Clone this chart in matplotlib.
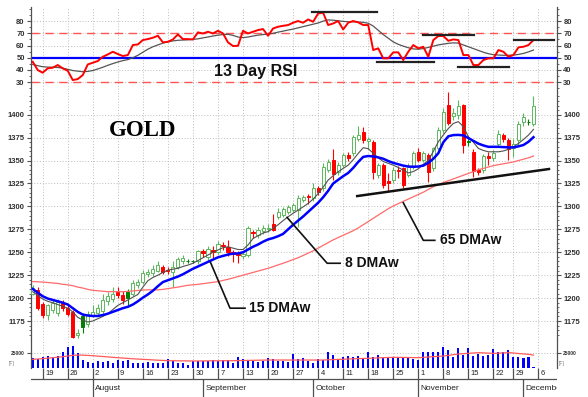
import numpy as np
import matplotlib
matplotlib.use("Agg")
import matplotlib.pyplot as plt

plt.rcParams['font.family'] = ['Liberation Sans', 'DejaVu Sans']

# ---- data (index 0 = Jul 15, one slot per trading day, last = Dec 3) ----
opens = [1205, 1209, 1194, 1182, 1187, 1184, 1195, 1189, 1185, 1160,
         1181, 1172, 1182, 1184, 1186, 1197, 1199, 1207, 1203, 1207,
         1204, 1214, 1218, 1226, 1227, 1230, 1234, 1231, 1229, 1234,
         1240, 1240.5, 1240.5, 1240, 1251, 1245, 1252, 1250, 1258, 1256,
         1250, 1248, 1246, 1247, 1272, 1269, 1273, 1275, 1281, 1288.7,
         1290.5, 1294, 1296, 1296, 1307, 1311, 1308.7, 1319.6, 1319.6, 1339.6,
         1350.5, 1337.8, 1345, 1356, 1357.8, 1374, 1381.5, 1371, 1370.5, 1334,
         1345, 1328, 1328.7, 1340, 1341.5, 1334, 1343, 1359.6, 1350.5, 1356,
         1341.5, 1363.3, 1383.3, 1410.5, 1398.5, 1400, 1410.5, 1371, 1359.6, 1340,
         1340, 1355, 1353, 1368, 1377.5, 1372, 1364, 1372, 1392, 1392.5,
         1390]
highs = [1214, 1212, 1196, 1194, 1198, 1199, 1198, 1192, 1187, 1166,
         1184, 1186, 1192, 1194, 1204, 1207, 1212, 1212, 1208, 1210,
         1220, 1221, 1231, 1232, 1236, 1241, 1236, 1234, 1240, 1245,
         1247, 1243, 1242, 1252, 1254, 1257, 1257, 1262, 1261, 1263,
         1253, 1251, 1250, 1279, 1274, 1278, 1280, 1281, 1292, 1298,
         1299, 1302, 1304, 1312, 1313, 1314, 1325, 1322, 1347, 1352,
         1363, 1348, 1358, 1359, 1378, 1387.6, 1387, 1376, 1372, 1347,
         1347, 1336, 1343, 1344, 1343, 1347, 1360, 1364, 1360, 1358,
         1365, 1387, 1407, 1425, 1407, 1416, 1412, 1373, 1363, 1342,
         1357, 1359, 1362, 1383, 1380, 1375, 1373, 1393, 1402, 1395,
         1420]
lows = [1203, 1187, 1178, 1176, 1184, 1181, 1186, 1180, 1156, 1157,
        1162, 1169, 1179, 1181, 1183, 1193, 1196, 1200, 1194, 1193,
        1202, 1211, 1215, 1223, 1224, 1228, 1226, 1226, 1212, 1232,
        1237, 1238, 1238, 1237, 1245, 1241, 1243, 1248, 1253, 1246,
        1239, 1238, 1243, 1245, 1266, 1266, 1270, 1272, 1273, 1286,
        1288, 1292, 1294, 1278, 1305, 1303, 1306, 1313, 1317, 1337,
        1329, 1334, 1343, 1350, 1355, 1371, 1368.7, 1363, 1330, 1330.5,
        1320, 1317, 1325, 1331, 1320, 1332, 1341, 1348, 1348, 1327,
        1339, 1361, 1380, 1388.7, 1394, 1395, 1358, 1366, 1332, 1334,
        1336, 1345, 1350, 1365, 1370, 1351, 1354, 1366, 1388, 1389,
        1388]
closes = [1211, 1189, 1182, 1192, 1195, 1196, 1189, 1183, 1158, 1162,
          1169, 1183, 1185, 1189, 1198, 1202, 1205, 1203, 1198, 1200,
          1217, 1218, 1227, 1229, 1232, 1236, 1229, 1229.5, 1234, 1243,
          1244, 1240, 1240, 1251, 1249, 1254, 1250.5, 1259, 1256.5, 1250,
          1248.5, 1246.5, 1248, 1276, 1270.5, 1274, 1276, 1277, 1274, 1294,
          1296.7, 1299.6, 1301.5, 1308.7, 1310.5, 1310, 1319.6, 1316, 1343.3, 1348.7,
          1335.3, 1345, 1356, 1353, 1376, 1378, 1372.4, 1373, 1337.8, 1345,
          1323, 1326, 1339.6, 1338.5, 1323.3, 1343.3, 1358, 1350.5, 1357.8, 1337.8,
          1363.3, 1383.3, 1403.3, 1390.5, 1401.5, 1410, 1367, 1370, 1338.6, 1337,
          1355, 1353, 1358, 1379, 1373, 1363, 1368, 1390, 1398, 1392,
          1409.7]
# u = hollow green, d = red, g = filled dark green (ten per row)
kinds = ("udduuudddu" "guuuuuuddg" "uuuuuudduu" "uggudududd" "dduuduuudu"
         "uuuuududuu" "duuduududu" "ddudduudud" "uuuduudgdd" "uduudduuug"
         "u")
ma8 = [1207, 1203, 1199, 1196.5, 1195, 1193, 1191, 1189, 1185, 1179,
       1176, 1174, 1175, 1177.5, 1180, 1183, 1187.5, 1192, 1195, 1198,
       1201, 1204, 1212, 1219, 1222.5, 1225, 1228, 1230.5, 1231.5, 1232.5,
       1234.5, 1236, 1238, 1241, 1244, 1247, 1250, 1252.5, 1255, 1256,
       1254.5, 1253, 1253, 1258, 1265, 1268, 1271, 1272.5, 1276, 1280,
       1284.5, 1288.7, 1292.5, 1296, 1299.5, 1303.3, 1308, 1314, 1321, 1328.7,
       1333.5, 1337.8, 1341.5, 1345, 1351, 1357.8, 1364, 1363, 1358, 1353,
       1349, 1347, 1345, 1342.5, 1339.6, 1336.5, 1338, 1341, 1346, 1350,
       1360, 1370.5, 1378, 1385, 1390.5, 1392.5, 1387, 1376, 1370, 1363.3,
       1361, 1359.6, 1359.6, 1359.6, 1360.5, 1362.2, 1365, 1368.7, 1373, 1377.8,
       1384]
ma15 = [1210, 1206, 1202, 1199.5, 1198, 1196.5, 1195, 1193, 1189, 1185,
        1182, 1181, 1180.5, 1180.5, 1181.5, 1183, 1185, 1187, 1189, 1190.5,
        1193, 1196.5, 1200.5, 1204, 1208, 1213, 1217.5, 1219.5, 1221.5, 1223.5,
        1226, 1229, 1232, 1234.5, 1237, 1239.5, 1242, 1244.5, 1246, 1247.5,
        1248.5, 1248.7, 1250, 1253, 1256, 1258.5, 1261.5, 1264, 1265.5, 1267.5,
        1270, 1275, 1280, 1284.5, 1289, 1294, 1299, 1304, 1310, 1317,
        1325, 1329, 1333, 1336.5, 1342, 1348.5, 1354, 1355, 1354.5, 1353.5,
        1352, 1349.5, 1347.5, 1346, 1344.5, 1343.5, 1343.3, 1343.5, 1344.5, 1347.5,
        1352, 1358, 1370, 1376.5, 1377.8, 1378, 1377.5, 1374.5, 1371.5, 1368.5,
        1366.5, 1365, 1365, 1365, 1364.7, 1364.4, 1364.4, 1365.5, 1367, 1370.5,
        1375.5]
ma65 = [1218, 1217.8, 1217.5, 1217, 1216.5, 1216, 1215, 1214.5, 1213.5, 1212,
        1211, 1209.5, 1208.5, 1208, 1207.5, 1207, 1207, 1207, 1207, 1207.3,
        1207.8, 1208.3, 1208.8, 1209, 1209, 1209, 1209.5, 1210.3, 1211.2, 1212,
        1213, 1214, 1214.5, 1215, 1215.7, 1216.5, 1217.2, 1218, 1219.3, 1220.5,
        1222, 1223.5, 1225, 1226.5, 1228, 1229.5, 1231, 1232.5, 1234.3, 1236.2,
        1238, 1240, 1242, 1244, 1246.5, 1249, 1251.5, 1254.5, 1257.5, 1260.5,
        1263.5, 1266, 1268.5, 1271, 1273.5, 1276.5, 1280, 1283.5, 1287, 1290.5,
        1294, 1297.5, 1300.5, 1303, 1305.5, 1308, 1310.5, 1313, 1315.5, 1318.5,
        1321.5, 1324, 1326, 1328, 1330, 1332, 1334, 1336, 1338, 1340,
        1341.5, 1343, 1344.5, 1345.5, 1346.5, 1347.5, 1348.5, 1350, 1351.5, 1353,
        1355]
rsi = [46.7, 39.9, 37.7, 41.3, 41.8, 44.0, 41.3, 39.3, 31.7, 32.5,
       35.8, 44.5, 45.9, 47.3, 50.8, 52.7, 54.9, 53.0, 51.4, 52.2,
       60.4, 60.9, 64.5, 65.3, 66.4, 68.0, 62.6, 63.1, 65.0, 69.1,
       65.3, 65.3, 65.0, 70.8, 69.9, 71.3, 69.9, 72.1, 69.9, 62.6,
       59.6, 59.8, 72.1, 69.9, 71.3, 72.7, 73.5, 68.0, 74.0, 75.4,
       76.2, 76.8, 78.7, 80.1, 78.7, 81.4, 79.5, 86.3, 86.9, 76.8,
       78.1, 80.1, 73.2, 78.7, 80.1, 79.0, 76.8, 76.8, 56.3, 57.7,
       49.5, 49.5, 54.4, 54.4, 48.1, 54.9, 60.4, 57.7, 59.0, 50.8,
       64.5, 67.8, 67.8, 63.9, 65.0, 64.5, 52.2, 52.2, 44.0, 44.0,
       48.1, 49.5, 49.5, 56.3, 54.9, 50.8, 52.2, 58.5, 59.0, 60.4,
       64.5]
rsi_avg = [44.5, 43.5, 42.6, 42.3, 42.2, 42, 41.5, 40.5, 39.5, 39,
           38.5, 38.8, 39.5, 40.8, 42.2, 43.8, 45.2, 46.5, 47.6, 48.5,
           50, 52, 54.5, 57, 59, 60.5, 62, 63, 63.8, 64.3,
           64.5, 64.7, 65, 65.5, 66.3, 67, 67.8, 68.5, 69, 69.2,
           68.3, 67, 66.5, 67, 67.8, 68.5, 69, 69.4, 70, 71,
           71.8, 72.7, 73.5, 74.5, 75.5, 76.5, 77.5, 78.5, 80, 81,
           80.8, 80.3, 79.8, 79.5, 79.5, 79.3, 79, 78.3, 76, 72.5,
           69, 66, 63, 61, 59.5, 58.2, 57.2, 57, 57.5, 58.5,
           59.5, 60.5, 61.2, 61.8, 62.2, 62, 60.5, 59, 57.5, 56,
           54.5, 53.3, 52.5, 52.2, 52, 52, 52.2, 52.7, 53.5, 54.8,
           56.3]
volume = [16100, 14400, 18900, 20000, 18900, 20000, 27200, 34400, 37200, 24400,
          13300, 10600, 7800, 12200, 10600, 12200, 7800, 13300, 12200, 13300,
          7800, 7800, 8900, 10600, 7800, 7800, 8900, 14400, 11700, 7800,
          7800, 5000, 12200, 12200, 12200, 12200, 13300, 12200, 13300, 13300,
          8900, 17800, 14400, 13300, 12200, 10600, 11700, 16100, 14400, 12200,
          12200, 10600, 22800, 14400, 17200, 12200, 8900, 15000, 13300, 27200,
          21700, 13300, 17800, 20000, 18900, 20000, 15000, 26100, 18900, 21700,
          17200, 17800, 17800, 17800, 16100, 17800, 14400, 13300, 27200, 27200,
          27200, 26100, 34400, 30000, 18900, 32800, 21700, 32800, 20000, 22800,
          20000, 21700, 31700, 27200, 27200, 30000, 18900, 18900, 16100, 17800,
          2200]
volume_avg = [14400, 15000, 15600, 16400, 17200, 18000, 18900, 20000, 21000, 21700,
              21400, 21000, 20500, 19800, 19200, 18500, 17800, 17200, 16600, 16000,
              15400, 14900, 14400, 14000, 13500, 13000, 12600, 12200, 12100, 12000,
              11900, 11800, 11700, 11700, 11800, 11900, 12000, 12000, 12100, 12100,
              12200, 12300, 12500, 12700, 12800, 13000, 13100, 13300, 13300, 13300,
              13300, 13300, 13300, 13300, 13300, 13300, 13300, 13300, 13300, 13700,
              14000, 14300, 14600, 15000, 15300, 15600, 15900, 16200, 16500, 16800,
              17200, 17500, 17800, 17700, 17600, 17500, 17300, 17200, 17800, 18300,
              18900, 19400, 20000, 21000, 22200, 23300, 23900, 24500, 25000, 25600,
              25200, 24800, 24400, 24800, 25200, 25600, 25000, 24200, 23500, 22800,
              21500]

week_idx = [2, 7, 12, 17, 22, 27, 32, 37, 42, 47, 52, 57, 62, 67, 72, 77, 82, 87, 92, 96, 101]
week_labels = ['19', '26', '2', '9', '16', '23', '30', '7', '13', '20', '27',
               '4', '11', '18', '25', '1', '8', '15', '22', '29', '6']
month_idx = [12, 34, 56, 77, 98]
month_labels = ['August', 'September', 'October', 'November', 'December']

# hand-drawn lines: (x0, x1, y)
rsi_levels = [(55.7, 68.7, 87.5), (68.7, 80.2, 46.5), (77.9, 88.1, 68.9),
              (84.9, 95.1, 42.6), (96.1, 104.1, 64.5)]
trend_x = [64.8, 103.1]
trend_y = [1311.3, 1340.8]
# label leaders: (x points, y points, text position)
leaders = [([35.5, 39.4, 42.4], [1239, 1189, 1189], (43.2, 1189), '15 DMAw'),
           ([50.8, 58.8, 61.4], [1288, 1238, 1238], (62.3, 1238), '8 DMAw'),
           ([74.0, 78.0, 80.3], [1304, 1263, 1263], (81.3, 1263), '65 DMAw')]

idx = np.arange(len(closes))

# ---- figure layout (pixels of a 588x397 image) ----
W, H = 588.0, 397.0
fig = plt.figure(figsize=(W / 100, H / 100), dpi=100)


def box(x0, y0, x1, y1):
    return [x0 / W, 1 - y1 / H, (x1 - x0) / W, (y1 - y0) / H]


ax_rsi = fig.add_axes(box(31, 7, 557, 92))
ax_px = fig.add_axes(box(31, 92, 557, 340), sharex=ax_rsi)
ax_vol = fig.add_axes(box(31, 340, 557, 368), sharex=ax_rsi)
ax_dt = fig.add_axes(box(31, 368, 557, 397), sharex=ax_rsi)

grid_kw = dict(color='#b5b5b5', linestyle=(0, (1.2, 2.2)), linewidth=0.6)


def style(ax, size=5.5):
    for s in ['top', 'bottom']:
        ax.spines[s].set_visible(False)
    for s in ['left', 'right']:
        ax.spines[s].set_color('#505050')
        ax.spines[s].set_linewidth(0.9)
    ax.tick_params(axis='y', which='both', left=True, right=True,
                   labelleft=True, labelright=True, colors='#505050',
                   labelcolor='#303030', labelsize=size, direction='out')
    ax.tick_params(axis='y', which='major', length=3, width=0.8, pad=1.5)
    ax.tick_params(axis='y', which='minor', length=1.5, width=0.6)
    ax.tick_params(axis='x', which='both', length=0, labelbottom=False)
    ax.set_xticks(week_idx)
    ax.grid(True, which='major', **grid_kw)
    ax.set_axisbelow(True)
    for lbl in ax.get_yticklabels():
        lbl.set_fontweight('bold')


ax_rsi.set_xlim(-0.34, 104.7)

# ---- RSI panel ----
ax_rsi.set_ylim(21.9, 91.6)
ax_rsi.set_yticks([30, 40, 50, 60, 70, 80])
ax_rsi.set_yticks(np.arange(25, 91, 5), minor=True)
style(ax_rsi)
ax_rsi.axhline(70, color='#ff5555', lw=1.0, ls=(0, (6, 4)), zorder=2)
ax_rsi.axhline(30, color='#ff5555', lw=1.0, ls=(0, (6, 4)), zorder=2)
ax_rsi.axhline(50, color='#0000ff', lw=1.6, zorder=2)
ax_rsi.plot(idx, rsi_avg, color='#555555', lw=0.9, zorder=3)
ax_rsi.plot(idx, rsi, color='#ff0000', lw=1.4, zorder=4)
for x0, x1, y in rsi_levels:
    ax_rsi.plot([x0, x1], [y, y], color='#222222', lw=1.6, zorder=5)
ax_rsi.text(44.5, 39.1, '13 Day RSI', fontsize=11.5, fontweight='bold',
            ha='center', va='center', color='#111111')

# ---- price panel ----
ax_px.set_ylim(1154.3, 1424.8)
ax_px.set_yticks(np.arange(1175, 1401, 25))
ax_px.set_yticks(np.arange(1160, 1425, 5), minor=True)
style(ax_px)

col_edge = {'u': '#5cb85c', 'd': '#ff0000', 'g': '#008000'}
col_face = {'u': 'white', 'd': '#ff0000', 'g': '#008000'}
edges = [col_edge[k] for k in kinds]
faces = [col_face[k] for k in kinds]
o = np.array(opens)
c = np.array(closes)
bottoms = np.minimum(o, c)
heights = np.maximum(np.abs(c - o), 0.4)
ax_px.vlines(idx, lows, highs, colors=edges, lw=0.8, zorder=2)
ax_px.bar(idx, heights, bottom=bottoms, width=0.62, color=faces,
          edgecolor=edges, linewidth=0.7, zorder=3)

ax_px.plot(idx, ma65, color='#ff6a6a', lw=0.9, zorder=4)
ax_px.plot(idx, ma8, color='#505050', lw=0.8, zorder=4)
ax_px.plot(idx, ma15, color='#0000ff', lw=1.8, zorder=5)
ax_px.plot(trend_x, trend_y, color='#111111', lw=1.8, zorder=6)
for xs, ys, (tx, ty), label in leaders:
    ax_px.plot(xs, ys, color='#111111', lw=1.2, zorder=6)
    ax_px.text(tx, ty, label, fontsize=10, fontweight='bold', ha='left',
               va='center', color='#111111')
ax_px.text(22.0, 1383.3, 'GOLD', family='Liberation Serif', fontsize=16.5,
           fontweight='bold', ha='center', va='center', color='black')

# ---- volume panel ----
ax_vol.set_ylim(0, 46700)
ax_vol.set_yticks([25000])
style(ax_vol, size=3.5)
ax_vol.bar(idx, volume, width=0.42, color='#0000ff', zorder=2)
ax_vol.plot(idx, volume_avg, color='#ff5a5a', lw=0.9, zorder=3)
fig.text(9 / W, 1 - 364 / H, '[F]', fontsize=3.5, color='#777777', va='center')
fig.text(559 / W, 1 - 364 / H, '[F]', fontsize=3.5, color='#777777', va='center')

# ---- date rows ----
ax_dt.set_ylim(0, 29)
ax_dt.axis('off')
ax_dt.axhline(18, color='#505050', lw=0.9)
ax_dt.vlines(week_idx, 18, 29, colors='#505050', lw=0.9)
ax_dt.vlines(month_idx, 0, 18, colors='#505050', lw=0.9)
for x, t in zip(week_idx, week_labels):
    ax_dt.text(x + 0.45, 23.5, t, fontsize=5.5, ha='left', va='center',
               color='#222222', clip_on=True)
for x, t in zip(month_idx, month_labels):
    ax_dt.text(x + 0.45, 9, t, fontsize=6, ha='left', va='center',
               color='#222222', clip_on=True)

fig.savefig('out.png', dpi=100)
